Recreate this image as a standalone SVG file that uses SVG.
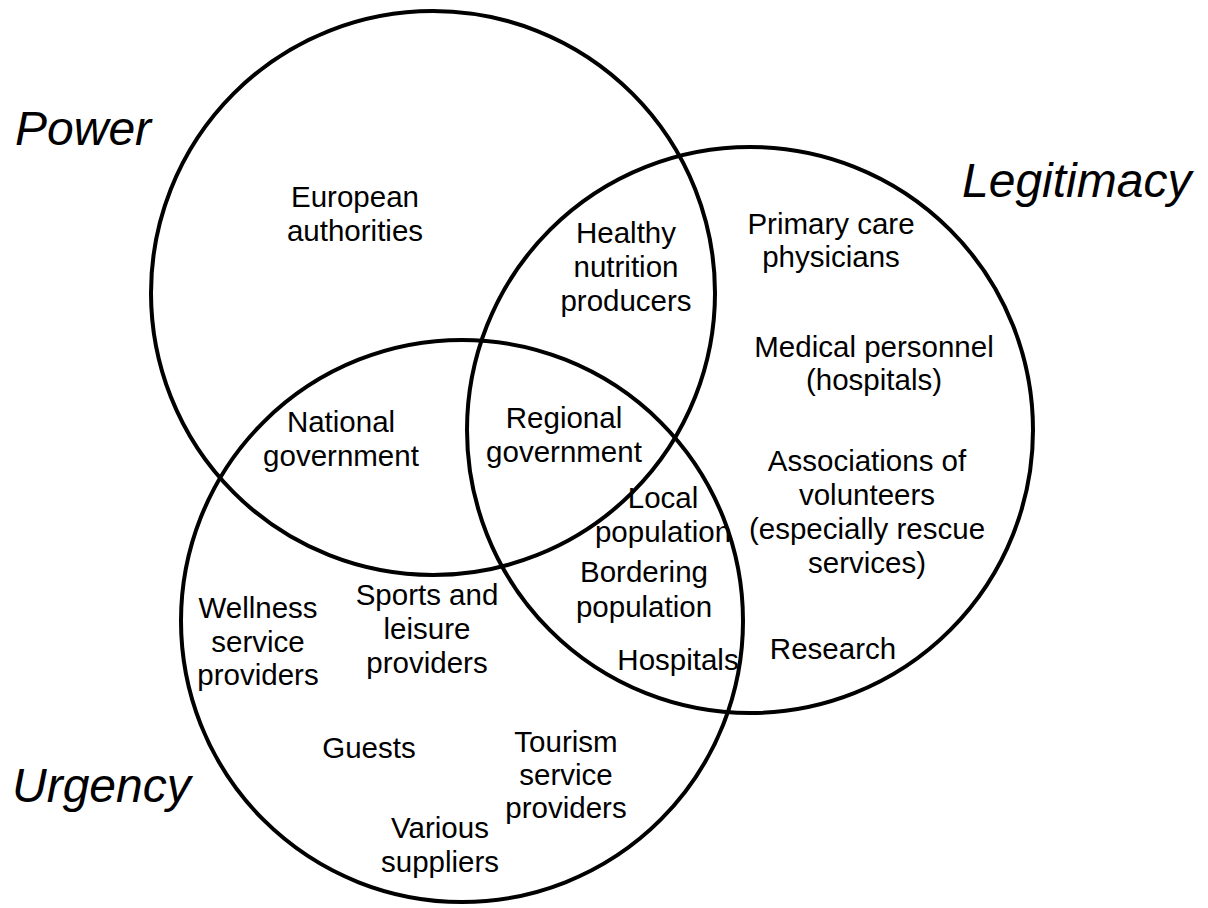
<svg xmlns="http://www.w3.org/2000/svg" width="1208" height="908" viewBox="0 0 1208 908">
<style>
.c{fill:none;stroke:#000;stroke-width:4}
.t{font-family:"Liberation Sans",Arial,sans-serif;font-size:29.5px;fill:#000;text-anchor:middle}
.h{font-family:"Liberation Sans",Arial,sans-serif;font-size:48px;font-style:italic;fill:#000}
</style>
<rect width="1208" height="908" fill="#fff"/>
<g id="power">
<circle class="c" cx="433" cy="293" r="282"/>
<text class="h" x="15" y="145">Power</text>
</g>
<g id="legitimacy">
<circle class="c" cx="750" cy="430" r="283"/>
<text class="h" x="962" y="197">Legitimacy</text>
</g>
<g id="urgency">
<circle class="c" cx="462" cy="621" r="281"/>
<text class="h" x="12" y="802">Urgency</text>
</g>
<g id="european-authorities"><text class="t"><tspan x="355" y="207">European</tspan><tspan x="355" y="241">authorities</tspan></text></g>
<g id="healthy-nutrition-producers"><text class="t"><tspan x="626" y="243">Healthy</tspan><tspan x="626" y="277">nutrition</tspan><tspan x="626" y="311">producers</tspan></text></g>
<g id="primary-care-physicians"><text class="t"><tspan x="831" y="234">Primary care</tspan><tspan x="831" y="267">physicians</tspan></text></g>
<g id="medical-personnel"><text class="t"><tspan x="874" y="357">Medical personnel</tspan><tspan x="874" y="390">(hospitals)</tspan></text></g>
<g id="associations-of-volunteers"><text class="t"><tspan x="867" y="471">Associations of</tspan><tspan x="867" y="505">volunteers</tspan><tspan x="867" y="539">(especially rescue</tspan><tspan x="867" y="573">services)</tspan></text></g>
<g id="research"><text class="t" x="833" y="659">Research</text></g>
<g id="national-government"><text class="t"><tspan x="341" y="432">National</tspan><tspan x="341" y="466">government</tspan></text></g>
<g id="regional-government"><text class="t"><tspan x="564" y="428">Regional</tspan><tspan x="564" y="462">government</tspan></text></g>
<g id="local-population"><text class="t"><tspan x="663" y="508">Local</tspan><tspan x="663" y="542">population</tspan></text></g>
<g id="bordering-population"><text class="t"><tspan x="644" y="582">Bordering</tspan><tspan x="644" y="617">population</tspan></text></g>
<g id="hospitals"><text class="t" x="678" y="670">Hospitals</text></g>
<g id="wellness-service-providers"><text class="t"><tspan x="258" y="618">Wellness</tspan><tspan x="258" y="652">service</tspan><tspan x="258" y="685">providers</tspan></text></g>
<g id="sports-and-leisure-providers"><text class="t"><tspan x="427" y="605">Sports and</tspan><tspan x="427" y="639">leisure</tspan><tspan x="427" y="673">providers</tspan></text></g>
<g id="guests"><text class="t" x="369" y="758">Guests</text></g>
<g id="tourism-service-providers"><text class="t"><tspan x="566" y="752">Tourism</tspan><tspan x="566" y="785">service</tspan><tspan x="566" y="818">providers</tspan></text></g>
<g id="various-suppliers"><text class="t"><tspan x="440" y="838">Various</tspan><tspan x="440" y="872">suppliers</tspan></text></g>
</svg>
